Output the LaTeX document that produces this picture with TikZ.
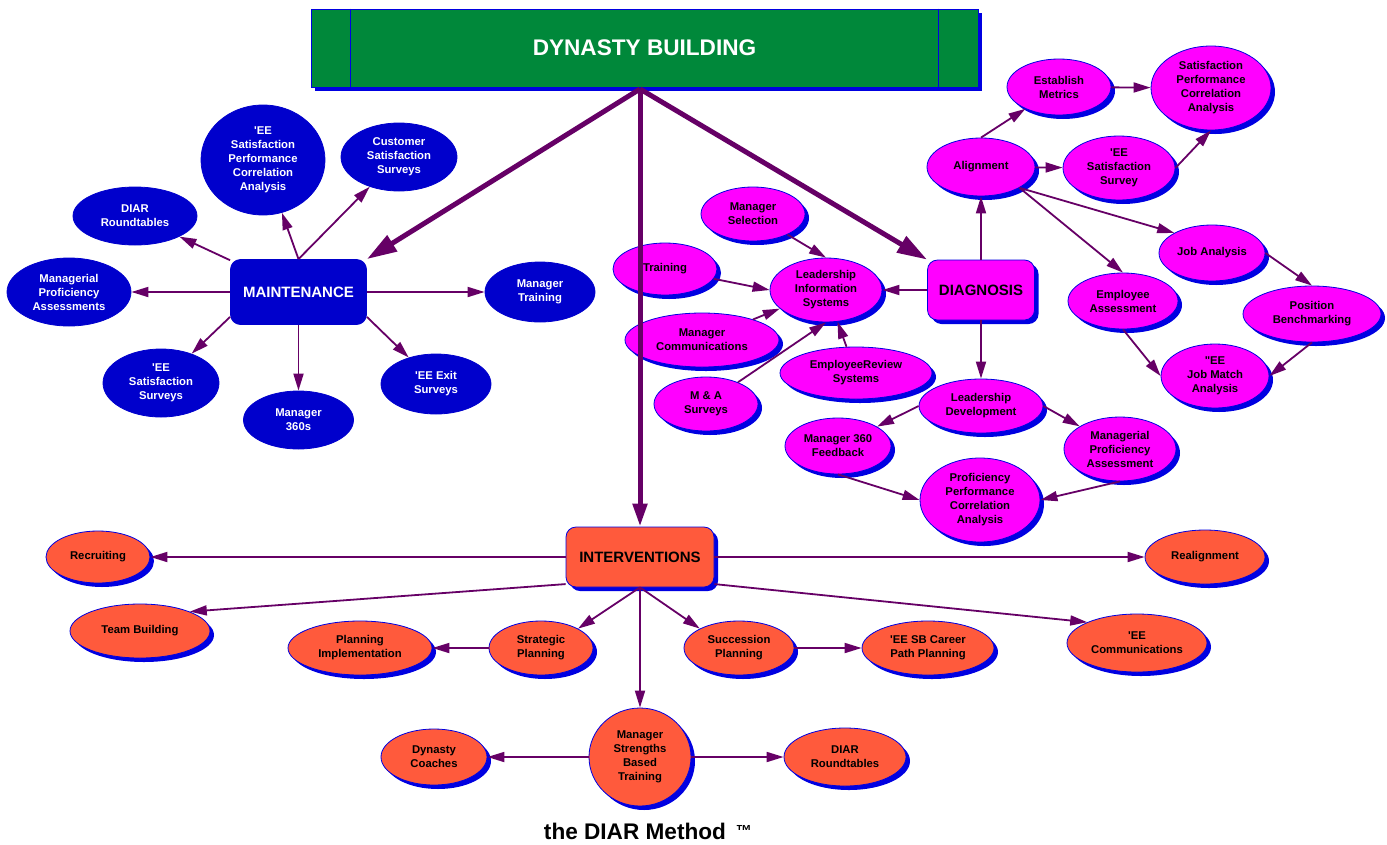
\documentclass[tikz,border=0pt]{standalone}
\usepackage{fontspec}
\setmainfont{Liberation Sans}
\usetikzlibrary{arrows.meta,shapes.geometric,shadows}
\definecolor{dgreen}{RGB}{0,136,58}
\definecolor{mblue}{RGB}{0,0,204}
\definecolor{shblue}{RGB}{0,0,225}
\definecolor{dmag}{RGB}{255,0,255}
\definecolor{iorange}{RGB}{255,90,60}
\definecolor{link}{RGB}{102,0,102}
\newcommand\lbl{\fontsize{11.3}{14}\selectfont\bfseries}
\newcommand\hub{\fontsize{15}{18}\selectfont\bfseries}
\tikzset{
  blueshadow/.style={drop shadow={shadow xshift=4pt, shadow yshift=-4pt, fill=shblue, opacity=1}},
  kell/.style={ellipse, inner sep=0pt, align=center, font=\lbl, line width=0.8pt},
  kmaint/.style={kell, fill=mblue, draw=mblue, text=white},
  kdiag/.style={kell, fill=dmag, draw=shblue, blueshadow, text=black},
  kint/.style={kell, fill=iorange, draw=shblue, blueshadow, text=black},
  khub/.style={rectangle, rounded corners=10pt, inner sep=0pt, line width=0.8pt, font=\hub},
  flow/.style={-{Triangle[length=17pt, width=10pt]}, line width=1.8pt, draw=link, fill=link},
  bigflow/.style={-{Triangle[length=30pt, width=18pt]}, line width=5pt, draw=link, fill=link},
}
\begin{document}
\begin{tikzpicture}[x=1pt, y=-1pt]
  \useasboundingbox (0,0) rectangle (1387,844);
  % top banner
  \node[draw=shblue, fill=dgreen, line width=0.8pt, blueshadow, minimum width=667pt, minimum height=78pt, text=white,
        font=\fontsize{22.6}{26}\selectfont\bfseries] (dyn) at (644.5,48) {DYNASTY BUILDING};
  \draw[shblue, line width=0.8pt] ([xshift=40pt]dyn.north west) -- ([xshift=40pt]dyn.south west);
  \draw[shblue, line width=0.8pt] ([xshift=-40pt]dyn.north east) -- ([xshift=-40pt]dyn.south east);
  \coordinate (hubtop) at (640,89);

  % maintenance
  \node[khub, fill=mblue, draw=mblue, text=white, minimum width=136pt, minimum height=65pt] (maint) at (298.5,292) {MAINTENANCE};
  \node[kmaint, minimum width=124pt, minimum height=58pt] (mdiar) at (135,216) {DIAR\\Roundtables};
  \node[kmaint, minimum width=124pt, minimum height=110pt] (mspca) at (263,160) {\textquotesingle EE\\Satisfaction\\Performance\\Correlation\\Analysis};
  \node[kmaint, minimum width=116pt, minimum height=68pt] (mcust) at (399,157) {Customer\\Satisfaction\\Surveys};
  \node[kmaint, minimum width=124pt, minimum height=68pt] (mprof) at (69,292) {Managerial\\Proficiency\\Assessments};
  \node[kmaint, minimum width=110pt, minimum height=60pt] (mtrain) at (540,292) {Manager\\Training};
  \node[kmaint, minimum width=116pt, minimum height=68pt] (msat) at (161,383) {\textquotesingle EE\\Satisfaction\\Surveys};
  \node[kmaint, minimum width=110pt, minimum height=58pt] (m360) at (298.5,420) {Manager\\360s};
  \node[kmaint, minimum width=110pt, minimum height=60pt] (mexit) at (436,384) {\textquotesingle EE Exit\\Surveys};

  % diagnosis
  \node[khub, fill=dmag, draw=shblue, blueshadow, minimum width=107pt, minimum height=60pt] (diag) at (981,290) {DIAGNOSIS};
  \node[kdiag, minimum width=112pt, minimum height=64pt] (dlis) at (826,290) {Leadership\\Information\\Systems};
  \node[kdiag, minimum width=104pt, minimum height=54pt] (dsel) at (753,214) {Manager\\Selection};
  \node[kdiag, minimum width=104pt, minimum height=52pt] (dtrain) at (665,269) {Training};
  \node[kdiag, minimum width=154pt, minimum height=54pt] (dcomm) at (702,340) {Manager\\Communications};
  \node[kdiag, minimum width=104pt, minimum height=54pt] (dma) at (706,404) {M \& A\\Surveys};
  \node[kdiag, minimum width=152pt, minimum height=52pt] (drev) at (856,373) {EmployeeReview\\Systems};
  \node[kdiag, minimum width=108pt, minimum height=58pt] (dalign) at (981,167) {Alignment};
  \node[kdiag, minimum width=104pt, minimum height=56pt] (dmetric) at (1059,87) {Establish\\Metrics};
  \node[kdiag, minimum width=120pt, minimum height=84pt] (dspca) at (1211,88) {Satisfaction\\Performance\\Correlation\\Analysis};
  \node[kdiag, minimum width=112pt, minimum height=64pt] (dsurv) at (1119,168) {\textquotesingle EE\\Satisfaction\\Survey};
  \node[kdiag, minimum width=106pt, minimum height=56pt] (djob) at (1212,253) {Job Analysis};
  \node[kdiag, minimum width=110pt, minimum height=56pt] (dassess) at (1123,301) {Employee\\Assessment};
  \node[kdiag, minimum width=138pt, minimum height=56pt] (dbench) at (1312,314) {Position\\Benchmarking};
  \node[kdiag, minimum width=108pt, minimum height=64pt] (dmatch) at (1215,376) {\textquotedbl EE\\Job Match\\Analysis};
  \node[kdiag, minimum width=124pt, minimum height=54pt] (dlead) at (981,406) {Leadership\\Development};
  \node[kdiag, minimum width=106pt, minimum height=56pt] (d360) at (838,446) {Manager 360\\Feedback};
  \node[kdiag, minimum width=112pt, minimum height=64pt] (dmpa) at (1120,449) {Managerial\\Proficiency\\Assessment};
  \node[kdiag, minimum width=120pt, minimum height=84pt] (dppca) at (980,500) {Proficiency\\Performance\\Correlation\\Analysis};

  % interventions
  \node[khub, fill=iorange, draw=shblue, blueshadow, minimum width=148pt, minimum height=60pt] (int) at (640,557) {INTERVENTIONS};
  \node[kint, minimum width=104pt, minimum height=52pt] (irec) at (98,557) {Recruiting};
  \node[kint, minimum width=140pt, minimum height=54pt] (iteam) at (140,631) {Team Building};
  \node[kint, minimum width=144pt, minimum height=54pt] (iplan) at (360,648) {Planning\\Implementation};
  \node[kint, minimum width=104pt, minimum height=54pt] (istrat) at (541,648) {Strategic\\Planning};
  \node[kint, minimum width=110pt, minimum height=54pt] (isucc) at (739,648) {Succession\\Planning};
  \node[kint, minimum width=132pt, minimum height=54pt] (icareer) at (928,648) {\textquotesingle EE SB Career\\Path Planning};
  \node[kint, minimum width=140pt, minimum height=58pt] (icomm) at (1137,643) {\textquotesingle EE\\Communications};
  \node[kint, minimum width=120pt, minimum height=54pt] (irealign) at (1205,557) {Realignment};
  \node[kint, minimum width=102pt, minimum height=98pt] (imsbt) at (640,757) {Manager\\Strengths\\Based\\Training};
  \node[kint, minimum width=106pt, minimum height=56pt] (icoach) at (434,757) {Dynasty\\Coaches};
  \node[kint, minimum width=122pt, minimum height=58pt] (idiar) at (845,757) {DIAR\\Roundtables};

  \node[font=\fontsize{22.6}{26}\selectfont\bfseries] (method) at (635,831) {the DIAR Method};
  \node[font=\fontsize{16}{16}\selectfont\bfseries, anchor=west, inner sep=0pt] (tm) at ([xshift=6pt]method.east) {™};

  % main branches
  \draw[bigflow] (hubtop) -- (maint.north east);
  \draw[bigflow] (hubtop) -- (diag.north west);
  \draw[bigflow, -{Triangle[length=23pt, width=14pt]}] (hubtop) -- (int.north);

  % maintenance links
  \draw[flow] (maint) -- (mdiar);
  \draw[flow] (maint.north) -- (mspca);
  \draw[flow] (maint.north) -- (mcust);
  \draw[flow] (maint) -- (mprof);
  \draw[flow] (maint) -- (mtrain);
  \draw[flow] (maint.200) -- (msat);
  \draw[flow] (maint) -- (m360);
  \draw[flow] (maint.-20) -- (mexit);

  % diagnosis links
  \draw[flow] (diag) -- (dlis);
  \draw[flow] (dsel) -- (dlis.north);
  \draw[flow] (dtrain) -- (dlis.west);
  \draw[flow] (dcomm) -- (dlis);
  \draw[flow] (dma) -- (dlis.south);
  \draw[flow] (drev) -- (dlis);
  \draw[flow] (diag) -- (dalign);
  \draw[flow] (dalign.north) -- (dmetric);
  \draw[flow] (dalign) -- (dsurv);
  \draw[flow] (dmetric) -- (dspca);
  \draw[flow] (dsurv.east) -- (dspca.south);
  \draw[flow] (dalign.south east) -- (djob.north west);
  \draw[flow] (dalign.south east) -- (dassess.north);
  \draw[flow] (djob.east) -- (dbench.north);
  \draw[flow] (dassess.south) -- (dmatch.west);
  \draw[flow] (dbench.south) -- (dmatch.east);
  \draw[flow] (diag) -- (dlead);
  \draw[flow] (dlead.west) -- (d360);
  \draw[flow] (dlead.east) -- (dmpa);
  \draw[flow] (d360.south) -- (dppca.west);
  \draw[flow] (dmpa.south) -- (dppca.east);

  % intervention links
  \draw[flow] (int) -- (irec);
  \draw[flow] (int) -- (irealign);
  \draw[flow] (int.200) -- (iteam.north east);
  \draw[flow] (int.-20) -- (icomm.north west);
  \draw[flow] (int.south) -- (istrat.north east);
  \draw[flow] (int.south) -- (isucc.north west);
  \draw[flow] (int) -- (imsbt);
  \draw[flow] (istrat) -- (iplan);
  \draw[flow] (isucc) -- (icareer);
  \draw[flow] (imsbt) -- (icoach);
  \draw[flow] (imsbt) -- (idiar);
\end{tikzpicture}
\end{document}
